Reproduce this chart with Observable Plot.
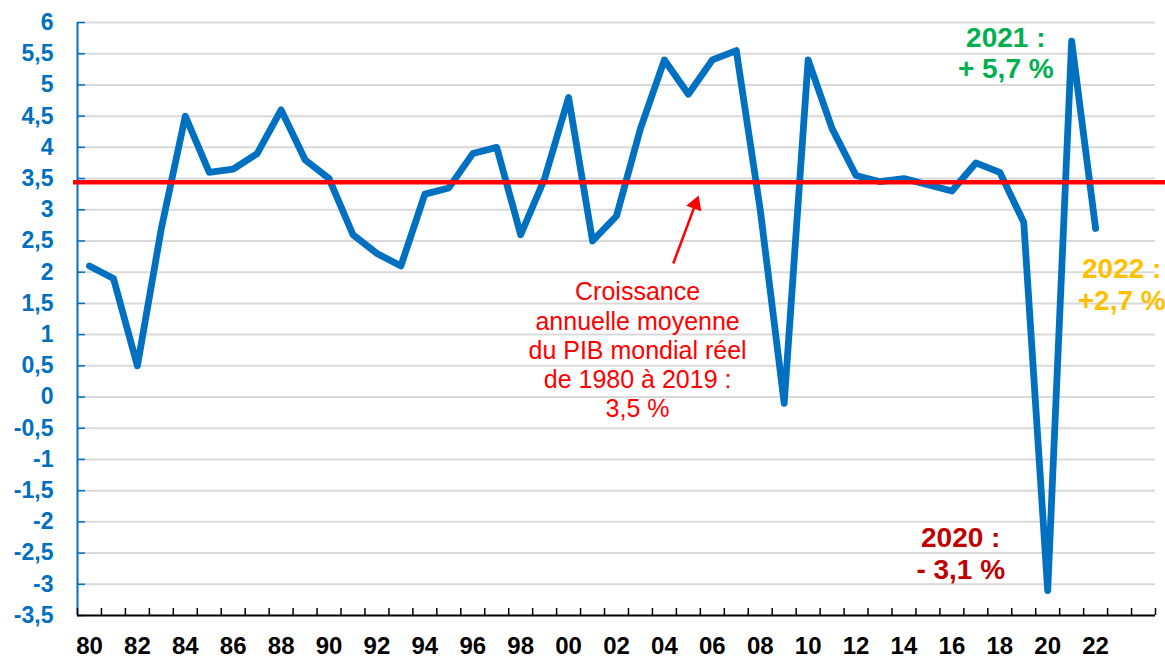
<!DOCTYPE html>
<html>
<head>
<meta charset="utf-8">
<script src="https://cdn.jsdelivr.net/npm/d3@7"></script>
<script src="https://cdn.jsdelivr.net/npm/@observablehq/plot@0.6"></script>
<style>
  body { margin: 0; background: #fff; }
  #chart svg { overflow: visible; display: block; }
</style>
</head>
<body>
<div id="chart"></div>
<script>
// ---- Data ----
const years = [1980, 1981, 1982, 1983, 1984, 1985, 1986, 1987, 1988, 1989,
               1990, 1991, 1992, 1993, 1994, 1995, 1996, 1997, 1998, 1999,
               2000, 2001, 2002, 2003, 2004, 2005, 2006, 2007, 2008, 2009,
               2010, 2011, 2012, 2013, 2014, 2015, 2016, 2017, 2018, 2019,
               2020, 2021, 2022];
const growth = [2.1, 1.9, 0.5, 2.7, 4.5, 3.6, 3.65, 3.9, 4.6, 3.8,
                3.5, 2.6, 2.3, 2.1, 3.25, 3.35, 3.9, 4.0, 2.6, 3.5,
                4.8, 2.5, 2.9, 4.3, 5.4, 4.85, 5.4, 5.55, 3.0, -0.1,
                5.4, 4.3, 3.55, 3.45, 3.5, 3.4, 3.3, 3.75, 3.6, 2.8,
                -3.1, 5.7, 2.7];
const meanGrowth = 3.44;
const yTicks = [-3.5, -3, -2.5, -2, -1.5, -1, -0.5, 0, 0.5, 1, 1.5, 2, 2.5, 3, 3.5, 4, 4.5, 5, 5.5, 6];
const xTickYears = [1980, 1982, 1984, 1986, 1988, 1990, 1992, 1994, 1996, 1998, 2000,
                    2002, 2004, 2006, 2008, 2010, 2012, 2014, 2016, 2018, 2020, 2022];
const meanNoteText = "Croissance\nannuelle moyenne\ndu PIB mondial réel\nde 1980 à 2019 :\n3,5 %";
const meanNotePos = [2002.88, 0.76];
const arrowTail = [2004.37, 2.14];
const arrowTip = [2005.43, 3.23];
const yearNotes = ["2020 :\n- 3,1 %", "2021 :\n+ 5,7 %", "2022 :\n+2,7 %"];
const yearNoteX = [2016.37, 2018.25, 2023.09];
const yearNoteY = [-2.5, 5.52, 1.81];

// ---- Layout / style ----
const W = 1165, H = 657, mL = 77, mR = 10, mT = 22, mB = 42;
const xDomain = [1979.5, 2024.5], yDomain = [-3.5, 6];
const pxPerYear = (W - mL - mR) / (xDomain[1] - xDomain[0]);
const pxPerUnit = (H - mT - mB) / (yDomain[1] - yDomain[0]);
const blue = "#0070c0", red = "#ff0000";
const noteColors = ["#c00000", "#00b050", "#ffc000"];
const font = '"Liberation Sans", Arial, sans-serif';

const data = years.map((year, i) => ({year, value: growth[i]}));
const yearBounds = [xDomain[0], ...years.map(y => y + 0.5), 2023.5, 2024.5];
const notes = yearNotes.map((t, i) => ({text: t, x: yearNoteX[i], y: yearNoteY[i], color: noteColors[i]}));

// arrow head geometry (pixel space)
const dxp = (arrowTip[0] - arrowTail[0]) * pxPerYear;
const dyp = (arrowTip[1] - arrowTail[1]) * pxPerUnit;
const lenp = Math.hypot(dxp, dyp);
const headR = 6;
const triY = Math.sqrt(Math.PI * headR * headR / (Math.sqrt(3) * 3));
const back = 2 * triY / lenp;
const headCenter = [arrowTip[0] - (arrowTip[0] - arrowTail[0]) * back,
                    arrowTip[1] - (arrowTip[1] - arrowTail[1]) * back];
const headAngle = Math.atan2(dxp, dyp) * 180 / Math.PI;

const chart = Plot.plot({
  width: W, height: H,
  marginLeft: mL, marginRight: mR, marginTop: mT, marginBottom: mB,
  style: {fontFamily: font, background: "#fff", overflow: "visible"},
  x: {domain: xDomain, label: null},
  y: {domain: yDomain, label: null},
  marks: [
    Plot.ruleY(yTicks.filter(v => v > -3.5), {x1: xDomain[0], x2: xDomain[1], stroke: "#d9d9d9", strokeWidth: 2}),
    Plot.ruleX([xDomain[0]], {y1: yDomain[0], y2: yDomain[1], stroke: blue, strokeWidth: 2}),
    Plot.ruleY(yTicks, {x1: xDomain[0], x2: xDomain[0] + 8 / pxPerYear, stroke: blue, strokeWidth: 1.5}),
    Plot.ruleY([yDomain[0]], {x1: xDomain[0], x2: xDomain[1], stroke: "#000", strokeWidth: 2}),
    Plot.ruleX(yearBounds, {y1: yDomain[0], y2: yDomain[0] + 7 / pxPerUnit, stroke: "#000", strokeWidth: 1.5}),
    Plot.axisY(yTicks, {tickSize: 0, tickPadding: 24, fontSize: 23, fontWeight: "bold", fill: blue,
      tickFormat: v => String(v).replace(".", ",")}),
    Plot.axisX(xTickYears, {tickSize: 0, tickPadding: 21, fontSize: 24, fontWeight: "bold", fill: "#000",
      tickFormat: y => String(y % 100).padStart(2, "0")}),
    Plot.line(data, {x: "year", y: "value", stroke: blue, strokeWidth: 6.8, strokeLinejoin: "round", strokeLinecap: "round"}),
    Plot.ruleY([meanGrowth], {x1: xDomain[0] - 4 / pxPerYear, x2: xDomain[1] + 10 / pxPerYear, stroke: red, strokeWidth: 4.5, clip: false}),
    Plot.link([0], {x1: () => arrowTail[0], y1: () => arrowTail[1], x2: () => headCenter[0], y2: () => headCenter[1],
      stroke: red, strokeWidth: 2.5}),
    Plot.dot([0], {x: () => headCenter[0], y: () => headCenter[1], symbol: "triangle", r: headR,
      fill: red, stroke: "none", rotate: headAngle}),
    Plot.text([meanNoteText], {x: () => meanNotePos[0], y: () => meanNotePos[1], text: d => d,
      fill: red, fontSize: 25, lineHeight: 1.17, textAnchor: "middle"}),
    Plot.text(notes, {x: "x", y: "y", text: "text", fill: d => d.color, fontSize: 28, fontWeight: "bold",
      lineHeight: 1.12, textAnchor: "middle"})
  ]
});
document.getElementById("chart").appendChild(chart);
</script>
</body>
</html>
